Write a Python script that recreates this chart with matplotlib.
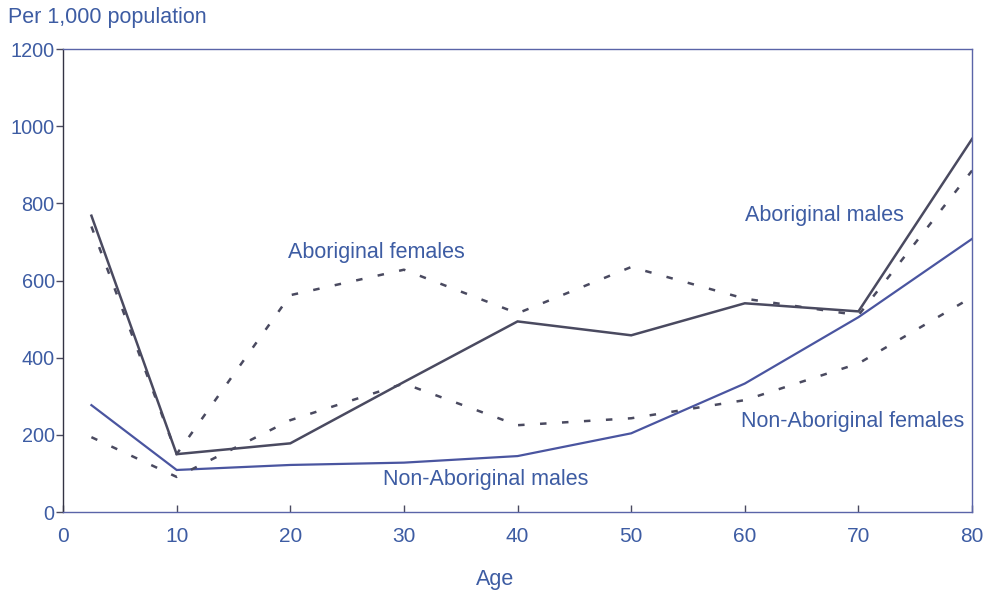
import matplotlib
matplotlib.use("Agg")
import matplotlib.pyplot as plt

ages = [2.5, 10, 20, 30, 40, 50, 60, 70, 80]
aboriginal_males = [768, 150, 178, 337, 494, 458, 541, 520, 967]
aboriginal_females = [740, 150, 562, 628, 515, 635, 553, 510, 885]
non_aboriginal_males = [277, 109, 122, 128, 145, 204, 333, 505, 708]
non_aboriginal_females = [194, 91, 238, 333, 225, 243, 290, 385, 557]

x_ticks = [0, 10, 20, 30, 40, 50, 60, 70, 80]
y_ticks = [0, 200, 400, 600, 800, 1000, 1200]

text_color = "#3d5ca3"
line_dark = "#4a4a60"
line_blue = "#4a55a0"

plt.rcParams['font.family'] = ['Liberation Sans', 'DejaVu Sans']

fig = plt.figure(figsize=(9.86, 5.94), dpi=100)
ax = fig.add_axes([0.0639, 0.138, 0.922, 0.7795])

dash = (0, (2.6, 6.2))
ax.plot(ages, aboriginal_males, color=line_dark, lw=1.8, solid_joinstyle='miter')
ax.plot(ages, aboriginal_females, color=line_dark, lw=1.8, linestyle=dash)
ax.plot(ages, non_aboriginal_males, color=line_blue, lw=1.6, solid_joinstyle='miter')
ax.plot(ages, non_aboriginal_females, color=line_dark, lw=1.8, linestyle=dash)

ax.set_xlim(0, 80)
ax.set_ylim(0, 1200)
ax.set_xticks(x_ticks)
ax.set_yticks(y_ticks)
ax.tick_params(axis='x', direction='in', length=5, width=1, colors=line_dark,
               labelcolor=text_color, labelsize=15, pad=11)
ax.tick_params(axis='y', direction='out', length=5, width=1, colors=line_dark,
               labelcolor=text_color, labelsize=14.3, pad=1)
for s in ax.spines.values():
    s.set_color("#5a64a8")
    s.set_linewidth(1.0)
ax.spines['left'].set_color("#333344")

lab = dict(color=text_color, fontsize=15.5)
ax.text(19.8, 672, "Aboriginal females", va='center', ha='left', **lab)
ax.text(60.0, 768, "Aboriginal males", va='center', ha='left', **lab)
ax.text(59.7, 235, "Non-Aboriginal females", va='center', ha='left', **lab)
ax.text(28.2, 85, "Non-Aboriginal males", va='center', ha='left', **lab)

fig.text(8/986, 1 - 18/594, "Per 1,000 population", ha='left', va='center', **lab)
fig.text(495/986, 1 - 580/594, "Age", ha='center', va='center', **lab)

fig.savefig("out.png", dpi=100, facecolor='white')
